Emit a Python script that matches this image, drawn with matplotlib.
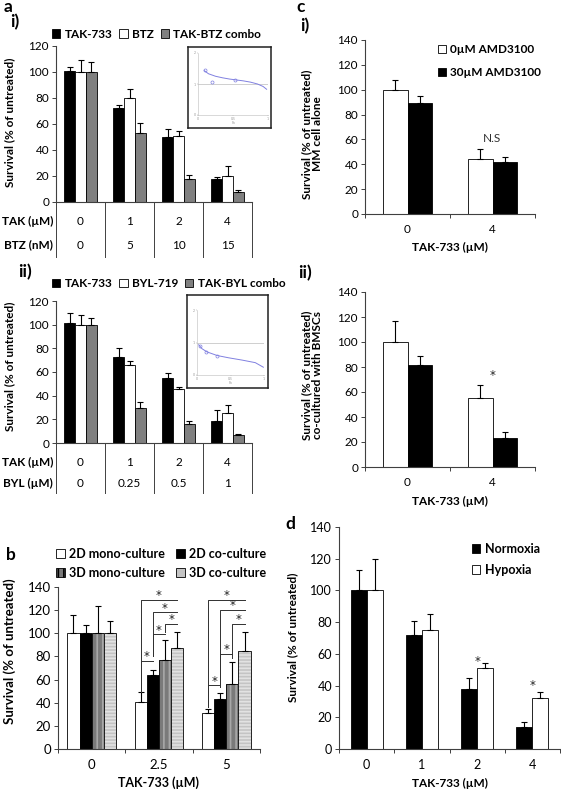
import numpy as np
import matplotlib
matplotlib.use("Agg")
import matplotlib.pyplot as plt
from matplotlib.transforms import blended_transform_factory
from matplotlib.patches import Patch

plt.rcParams['font.family'] = ['Lato', 'DejaVu Sans']
plt.rcParams['hatch.linewidth'] = 1.2

# ---- data ----
# a i) TAK-733 + bortezomib
a1_tak = [101, 72, 50, 18]
a1_tak_err = [3, 3, 6, 1]
a1_btz = [100, 80, 51, 20]
a1_btz_err = [9, 7, 4, 8]
a1_combo = [100, 53, 18, 8]
a1_combo_err = [8, 8, 3, 1]
a1_row1 = ['0', '1', '2', '4']
a1_row2 = ['0', '5', '10', '15']

# a ii) TAK-733 + BYL-719
a2_tak = [101, 73, 55, 19]
a2_tak_err = [9, 7, 4, 9]
a2_byl = [100, 66, 46, 25]
a2_byl_err = [8, 3, 1, 7]
a2_combo = [100, 30, 16, 7]
a2_combo_err = [6, 5, 3, 1]
a2_row1 = ['0', '1', '2', '4']
a2_row2 = ['0', '0.25', '0.5', '1']

# inset combination index plots (CI vs Fa)
ins1_fa = [0.09, 0.15, 0.25, 0.35, 0.45, 0.55, 0.65, 0.75, 0.85, 0.93, 0.98]
ins1_ci = [1.43, 1.33, 1.25, 1.2, 1.16, 1.13, 1.1, 1.06, 1.0, 0.92, 0.83]
ins1_pts_fa = [0.1, 0.2, 0.53]
ins1_pts_ci = [1.45, 1.06, 1.14]
ins2_fa = [0.025, 0.074, 0.15, 0.3, 0.47, 0.67, 0.87, 0.99]
ins2_ci = [0.93, 0.81, 0.71, 0.6, 0.53, 0.46, 0.38, 0.24]
ins2_pts_fa = [0.05, 0.13, 0.3]
ins2_pts_ci = [0.88, 0.7, 0.58]

# b) 2D / 3D culture
b_doses = ['0', '2.5', '5']
b_2d_mono = [100, 41, 31]
b_2d_mono_err = [16, 8, 4]
b_2d_co = [100, 64, 43]
b_2d_co_err = [7, 4, 5]
b_3d_mono = [100, 77, 56]
b_3d_mono_err = [24, 17, 19]
b_3d_co = [100, 87, 85]
b_3d_co_err = [11, 14, 16]
# significance brackets: (group, left bar, right bar, height, bottom of left leg)
b_brackets = [(1, 0, 3, 129, 49), (1, 1, 3, 118, 80), (1, 2, 3, 108, 101),
              (1, 1, 2, 99, 80), (1, 0, 1, 76, 49),
              (2, 0, 3, 129, 36), (2, 1, 3, 120, 54), (2, 2, 3, 108, 79),
              (2, 1, 2, 82, 54), (2, 0, 1, 55, 36)]

# c) AMD3100
c_doses = ['0', '4']
c1_ctrl = [100, 44]
c1_ctrl_err = [8, 8]
c1_amd = [89, 42]
c1_amd_err = [6, 4]
c2_ctrl = [100, 55]
c2_ctrl_err = [17, 11]
c2_amd = [82, 23]
c2_amd_err = [7, 5]

# d) hypoxia
d_doses = ['0', '1', '2', '4']
d_norm = [100, 72, 38, 14]
d_norm_err = [13, 9, 7, 3]
d_hyp = [100, 75, 51, 32]
d_hyp_err = [20, 10, 3, 4]
d_stars = [(2, 55), (3, 40)]

W, H = 561, 794
fig = plt.figure(figsize=(W / 100, H / 100), dpi=100)
STAR = dict(family='DejaVu Sans', fontsize=8.5, color='#202020')


def px_axes(left, top, right, bottom):
    return fig.add_axes([left / W, 1 - bottom / H, (right - left) / W, (bottom - top) / H])


def style(ax, ymax, step, fs):
    for s in ['top', 'right']:
        ax.spines[s].set_visible(False)
    for s in ['left', 'bottom']:
        ax.spines[s].set_linewidth(0.8)
        ax.spines[s].set_color('#404040')
    ax.set_ylim(0, ymax)
    ax.set_yticks(np.arange(0, ymax + 1, step))
    ax.tick_params(axis='y', length=3, width=0.7, labelsize=fs, pad=2, color='#404040')


def bars(ax, x, vals, errs, color, width, hatch=None, hcolor=None):
    if hatch:
        ax.bar(x, vals, width, color=color, edgecolor=hcolor, hatch=hatch, linewidth=0)
        ax.bar(x, vals, width, color='none', edgecolor='black', linewidth=0.6)
    else:
        ax.bar(x, vals, width, color=color, edgecolor='black', linewidth=0.6)
    ax.errorbar(x, vals, yerr=[np.zeros(len(errs)), errs], fmt='none', ecolor='black',
                elinewidth=0.8, capsize=2.2, capthick=0.8)


def group_ticks(ax, n, fs):
    ax.set_xlim(-0.5, n - 0.5)
    ax.set_xticks(np.arange(n))
    ax.set_xticks(np.arange(n + 1) - 0.5, minor=True)
    ax.tick_params(axis='x', which='major', length=0, pad=7, labelsize=fs)
    ax.tick_params(axis='x', which='minor', length=3, width=0.7, color='#404040')


def table(ax, row1, row2, lab1, lab2, y1, y2, ybot, fs):
    tr = blended_transform_factory(ax.transData, ax.transAxes)
    n = len(row1)
    ax.set_xlim(-0.5, n - 0.5)
    ax.set_xticks([])
    for i in range(n + 1):
        ax.plot([i - 0.5, i - 0.5], [0, ybot], transform=tr, color='#404040', lw=0.7, clip_on=False)
    for i in range(n):
        ax.text(i, y1, row1[i], transform=tr, ha='center', va='center', fontsize=fs)
        ax.text(i, y2, row2[i], transform=tr, ha='center', va='center', fontsize=fs)
    ax.text(-0.56, y1, lab1, transform=tr, ha='right', va='center', fontsize=fs, fontweight='bold')
    ax.text(-0.56, y2, lab2, transform=tr, ha='right', va='center', fontsize=fs, fontweight='bold')


def inset(frame_px, inner_px, fa, ci, pfa, pci):
    fr = px_axes(*frame_px)
    fr.set_xticks([])
    fr.set_yticks([])
    for s in fr.spines.values():
        s.set_linewidth(1.1)
        s.set_color('#202020')
    ia = px_axes(*inner_px)
    ia.plot([0, 1], [1, 1], color='#c8c8c8', lw=0.6)
    ia.plot(fa, ci, color='#8080e0', lw=0.7)
    ia.plot(pfa, pci, 'o', mfc='none', mec='#8080e0', ms=2.2, mew=0.5)
    ia.set_xlim(0, 1)
    ia.set_ylim(0, 2)
    ia.set_xticks([0, 0.5, 1])
    ia.set_xticklabels(['0', '0.5', '1'])
    ia.set_yticks([0, 1, 2])
    ia.set_xlabel('Fa', fontsize=2.5, labelpad=0, color='#999999')
    ia.tick_params(labelsize=2.5, length=1, width=0.3, pad=0.5, colors='#999999')
    for s in ['top', 'right']:
        ia.spines[s].set_visible(False)
    for s in ['left', 'bottom']:
        ia.spines[s].set_linewidth(0.4)
        ia.spines[s].set_color('#bbbbbb')


leg_kw = dict(frameon=False, handlelength=0.7, handleheight=0.7, handletextpad=0.35,
              borderpad=0, borderaxespad=0)

# ---- a i) ----
ax = px_axes(56, 46, 252, 202)
style(ax, 120, 20, 8.5)
x = np.arange(4)
w = 0.22
bars(ax, x - w, a1_tak, a1_tak_err, 'black', w)
bars(ax, x, a1_btz, a1_btz_err, 'white', w)
bars(ax, x + w, a1_combo, a1_combo_err, '#808080', w)
table(ax, a1_row1, a1_row2, 'TAK (µM)', 'BTZ (nM)', -0.122, -0.276, -0.353, 8.5)
h = [Patch(fc='black', ec='black', lw=0.6), Patch(fc='white', ec='black', lw=0.6),
     Patch(fc='#808080', ec='black', lw=0.6)]
ax.legend(h, ['TAK-733', 'BTZ', 'TAK-BTZ combo'], ncol=3, loc='lower left',
          bbox_to_anchor=(-0.02, 1.04), columnspacing=0.6,
          prop={'weight': 'bold', 'size': 8.5}, **leg_kw)
fig.text(10 / W, 1 - 122 / H, 'Survival (% of untreated)', rotation=90, ha='center', va='center',
         fontsize=8.5, fontweight='bold')
inset((188, 47, 271, 128), (198, 53, 268, 115), ins1_fa, ins1_ci, ins1_pts_fa, ins1_pts_ci)

# ---- a ii) ----
ax = px_axes(56, 301, 252, 443)
style(ax, 120, 20, 8.5)
bars(ax, x - w, a2_tak, a2_tak_err, 'black', w)
bars(ax, x, a2_byl, a2_byl_err, 'white', w)
bars(ax, x + w, a2_combo, a2_combo_err, '#808080', w)
table(ax, a2_row1, a2_row2, 'TAK (µM)', 'BYL (µM)', -0.134, -0.282, -0.352, 8.5)
ax.legend(h, ['TAK-733', 'BYL-719', 'TAK-BYL combo'], ncol=3, loc='lower left',
          bbox_to_anchor=(-0.02, 1.085), columnspacing=0.6,
          prop={'weight': 'bold', 'size': 8.5}, **leg_kw)
fig.text(10 / W, 1 - 366 / H, 'Survival (% of untreated)', rotation=90, ha='center', va='center',
         fontsize=8.5, fontweight='bold')
inset((187, 295, 268, 388), (197, 310, 264, 375), ins2_fa, ins2_ci, ins2_pts_fa, ins2_pts_ci)

# ---- b ----
ax = px_axes(58, 587, 260, 749)
style(ax, 140, 20, 9.5)
xb = np.arange(3)
wb = 0.18
offs = [-1.5 * wb, -0.5 * wb, 0.5 * wb, 1.5 * wb]
bars(ax, xb + offs[0], b_2d_mono, b_2d_mono_err, 'white', wb)
bars(ax, xb + offs[1], b_2d_co, b_2d_co_err, 'black', wb)
bars(ax, xb + offs[2], b_3d_mono, b_3d_mono_err, '#7a7a7a', wb, '|||', '#a8a8a8')
bars(ax, xb + offs[3], b_3d_co, b_3d_co_err, '#c4c4c4', wb, '-----', '#e2e2e2')
group_ticks(ax, 3, 9.5)
ax.set_xticklabels(b_doses)
ax.set_xlabel('TAK-733 (µM)', fontsize=9, fontweight='bold', labelpad=4)
for g, i, j, yh, yb in b_brackets:
    xl = g + offs[i]
    xr = g + offs[j]
    ax.plot([xl, xl, xr], [yb, yh, yh], color='#303030', lw=0.7, clip_on=False)
    ax.text((xl + xr) / 2, yh - 2.0, '*', ha='center', va='bottom', **STAR)
hb = [Patch(fc='white', ec='black', lw=0.6), Patch(fc='#7a7a7a', ec='black', lw=0.6, hatch='|||'),
      Patch(fc='black', ec='black', lw=0.6), Patch(fc='#c4c4c4', ec='black', lw=0.6)]
ax.legend(hb, ['2D mono-culture', '3D mono-culture', '2D co-culture', '3D co-culture'], ncol=2,
          loc='lower left', bbox_to_anchor=(-0.01, 1.05), columnspacing=0.9, labelspacing=0.55,
          prop={'weight': 'bold', 'size': 9}, **leg_kw)
fig.text(10 / W, 1 - 651 / H, 'Survival (% of untreated)', rotation=90, ha='center', va='center',
         fontsize=9.5, fontweight='bold')

# ---- c i) ----
wc = 0.29
xc = np.arange(2)
ax = px_axes(365, 40, 535, 214)
style(ax, 140, 20, 8.5)
bars(ax, xc - wc / 2, c1_ctrl, c1_ctrl_err, 'white', wc)
bars(ax, xc + wc / 2, c1_amd, c1_amd_err, 'black', wc)
group_ticks(ax, 2, 8.5)
ax.set_xticklabels(c_doses)
ax.set_xlabel('TAK-733 (µM)', fontsize=8.5, fontweight='bold', labelpad=5)
ax.text(1, 61, 'N.S', ha='center', va='center', fontsize=8.5, color='#303030')
hc = [Patch(fc='white', ec='black', lw=0.6), Patch(fc='black', ec='black', lw=0.6)]
ax.legend(hc, ['0µM AMD3100', '30µM AMD3100'], loc='upper left', bbox_to_anchor=(0.43, 0.975),
          labelspacing=1.0, prop={'weight': 'bold', 'size': 8.5}, **leg_kw)
fig.text(312 / W, 1 - 134 / H, 'Survival (% of untreated)\nMM cell alone', rotation=90,
         ha='center', va='center', fontsize=8.5, fontweight='bold', linespacing=1.05)

# ---- c ii) ----
ax = px_axes(365, 292, 535, 467)
style(ax, 140, 20, 8.5)
bars(ax, xc - wc / 2, c2_ctrl, c2_ctrl_err, 'white', wc)
bars(ax, xc + wc / 2, c2_amd, c2_amd_err, 'black', wc)
group_ticks(ax, 2, 8.5)
ax.set_xticklabels(c_doses)
ax.set_xlabel('TAK-733 (µM)', fontsize=8.5, fontweight='bold', labelpad=6)
ax.text(1, 73, '*', ha='center', va='center', **STAR)
fig.text(312 / W, 1 - 375 / H, 'Survival (% of untreated)\nco-cultured with BMSCs', rotation=90,
         ha='center', va='center', fontsize=8.5, fontweight='bold', linespacing=1.05)

# ---- d ----
ax = px_axes(339, 527, 560, 749)
style(ax, 140, 20, 9)
xd = np.arange(4)
bars(ax, xd - wc / 2, d_norm, d_norm_err, 'black', wc)
bars(ax, xd + wc / 2, d_hyp, d_hyp_err, 'white', wc)
group_ticks(ax, 4, 9)
ax.set_xticklabels(d_doses)
ax.set_xlabel('TAK-733 (µM)', fontsize=8.5, fontweight='bold', labelpad=5)
for g, ys in d_stars:
    ax.text(g, ys, '*', ha='center', va='center', **STAR)
hd = [Patch(fc='black', ec='black', lw=0.6), Patch(fc='white', ec='black', lw=0.6)]
ax.legend(hd, ['Normoxia', 'Hypoxia'], loc='upper left', bbox_to_anchor=(0.6, 0.93),
          labelspacing=0.75, prop={'weight': 'bold', 'size': 9}, **leg_kw)
fig.text(293 / W, 1 - 637 / H, 'Survival (% of untreated)', rotation=90, ha='center', va='center',
         fontsize=8.5, fontweight='bold')

# panel labels
for t, xx, yy in [('a', 8, 7), ('i)', 15, 22), ('ii)', 25, 272), ('b', 11, 555),
                  ('c', 301, 7), ('i)', 305, 26), ('ii)', 305, 273), ('d', 290, 524)]:
    fig.text(xx / W, 1 - yy / H, t, ha='center', va='center', fontsize=12.5, fontweight='bold')

fig.savefig('out.png', dpi=100)
